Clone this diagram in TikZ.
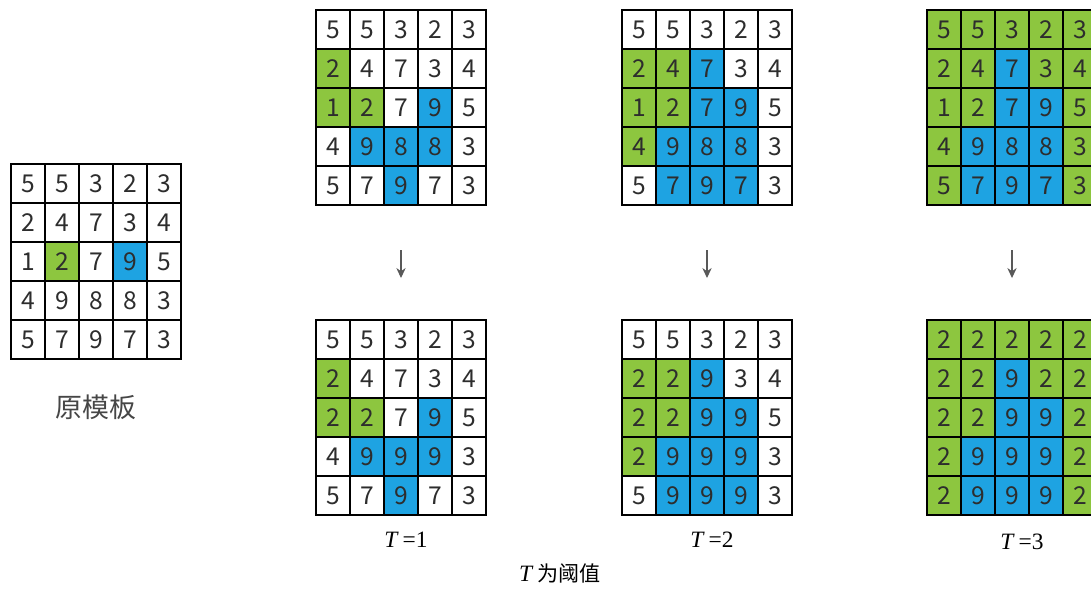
\documentclass[tikz,border=0pt]{standalone}
\usepackage{fontspec}
\setmainfont{Liberation Serif}
\newfontfamily\cjk{Noto Sans CJK SC}
\usepackage{xcolor}
\definecolor{gn}{RGB}{141,198,63}
\definecolor{bl}{RGB}{30,163,226}
\definecolor{numgray}{RGB}{45,45,45}
\definecolor{lblgray}{RGB}{70,70,70}
\usepackage{tikz}
\usetikzlibrary{positioning,arrows.meta}
\tikzset{
  cell/.style={rectangle,draw=black,line width=1.1pt,outer sep=0pt,inner sep=0pt,
    minimum width=10.2mm,minimum height=11.7mm,text=numgray,
    font=\cjk\fontsize{21}{21}\selectfont},
  cnlbl/.style={text=lblgray,font=\cjk\fontsize{23}{26}\selectfont,inner sep=0pt},
  tlbl/.style={text=black,font=\fontsize{20}{22}\selectfont,inner sep=0pt},
  arr/.style={-{Stealth[length=3mm,width=2.8mm]},draw=black!65,line width=0.9pt},
}
% one 5x5 board: name, left, top, values/colours row by row
\newcommand{\cellgrid}[4]{%
  \foreach \v/\c [count=\i from 0] in {#4} {
    \pgfmathtruncatemacro{\gr}{\i/5}
    \pgfmathtruncatemacro{\gc}{mod(\i,5)}
    \node[cell,fill=\c] (#1-\i) at ({#2+34*\gc+17},{#3+39*\gr+19.5}) {\v};
  }}

\begin{document}
\begin{tikzpicture}[x=0.3mm,y=-0.3mm]
  \useasboundingbox (0,0) rectangle (1091,588);
  \clip (0,0) rectangle (1091,588);
  % original template
  \cellgrid{org}{11}{164}{5/white,5/white,3/white,2/white,3/white,
    2/white,4/white,7/white,3/white,4/white,
    1/white,2/gn,7/white,9/bl,5/white,
    4/white,9/white,8/white,8/white,3/white,
    5/white,7/white,9/white,7/white,3/white}
  \node[cnlbl] (orglbl) at (96,407) {原模板};
  % T=1
  \cellgrid{t1a}{316}{10}{5/white,5/white,3/white,2/white,3/white,
    2/gn,4/white,7/white,3/white,4/white,
    1/gn,2/gn,7/white,9/bl,5/white,
    4/white,9/bl,8/bl,8/bl,3/white,
    5/white,7/white,9/bl,7/white,3/white}
  \cellgrid{t1b}{316}{320}{5/white,5/white,3/white,2/white,3/white,
    2/gn,4/white,7/white,3/white,4/white,
    2/gn,2/gn,7/white,9/bl,5/white,
    4/white,9/bl,9/bl,9/bl,3/white,
    5/white,7/white,9/bl,7/white,3/white}
  \node[tlbl] (t1lbl) at (406,540) {\textit{T}\,=1};
  % T=2
  \cellgrid{t2a}{622}{10}{5/white,5/white,3/white,2/white,3/white,
    2/gn,4/gn,7/bl,3/white,4/white,
    1/gn,2/gn,7/bl,9/bl,5/white,
    4/gn,9/bl,8/bl,8/bl,3/white,
    5/white,7/bl,9/bl,7/bl,3/white}
  \cellgrid{t2b}{622}{320}{5/white,5/white,3/white,2/white,3/white,
    2/gn,2/gn,9/bl,3/white,4/white,
    2/gn,2/gn,9/bl,9/bl,5/white,
    2/gn,9/bl,9/bl,9/bl,3/white,
    5/white,9/bl,9/bl,9/bl,3/white}
  \node[tlbl] (t2lbl) at (712,540) {\textit{T}\,=2};
  % T=3
  \cellgrid{t3a}{927}{10}{5/gn,5/gn,3/gn,2/gn,3/gn,
    2/gn,4/gn,7/bl,3/gn,4/gn,
    1/gn,2/gn,7/bl,9/bl,5/gn,
    4/gn,9/bl,8/bl,8/bl,3/gn,
    5/gn,7/bl,9/bl,7/bl,3/gn}
  \cellgrid{t3b}{927}{320}{2/gn,2/gn,2/gn,2/gn,2/gn,
    2/gn,2/gn,9/bl,2/gn,2/gn,
    2/gn,2/gn,9/bl,9/bl,2/gn,
    2/gn,9/bl,9/bl,9/bl,2/gn,
    2/gn,9/bl,9/bl,9/bl,2/gn}
  \node[tlbl] (t3lbl) at (1022,542) {\textit{T}\,=3};
  % arrows between the boards
  \draw[arr,shorten <=13.5mm,shorten >=12.6mm] (t1a-22.south) -- (t1b-2.north);
  \draw[arr,shorten <=13.5mm,shorten >=12.6mm] (t2a-22.south) -- (t2b-2.north);
  \draw[arr,shorten <=13.5mm,shorten >=12.6mm] (t3a-22.south) -- (t3b-2.north);
  \node[tlbl] (caption) at (560,573) {\textit{T}\,{\cjk\fontsize{18}{20}\selectfont 为阈值}};
\end{tikzpicture}
\end{document}
